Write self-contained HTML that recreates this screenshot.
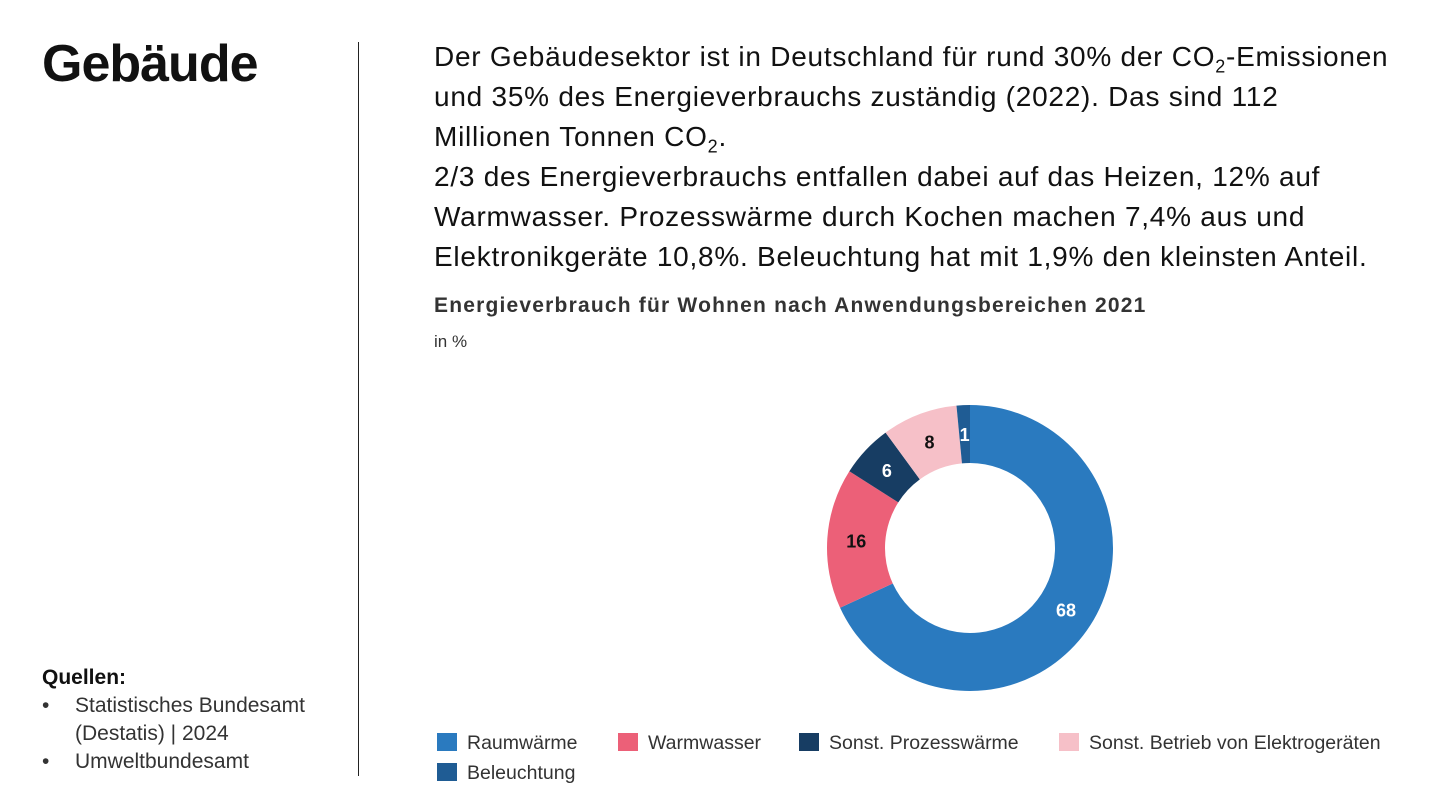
<!DOCTYPE html>
<html><head><meta charset="utf-8"><style>
body{margin:0;width:1440px;height:810px;background:#fff;font-family:"Liberation Sans",sans-serif;color:#111;position:relative;overflow:hidden}
.abs{position:absolute}
sub{font-size:18px;line-height:0}
.b{position:relative;padding-left:33px}
.b:before{content:"•";position:absolute;left:0}
</style></head><body>
<div class="abs" style="left:42px;top:34px;font-size:52px;font-weight:bold;letter-spacing:-1px">Gebäude</div>
<div class="abs" style="left:358px;top:42px;width:1px;height:734px;background:#222"></div>
<div class="abs" style="left:434px;top:37px;width:1000px;font-size:28px;letter-spacing:0.75px;line-height:40px;white-space:nowrap">Der Gebäudesektor ist in Deutschland für rund 30% der CO<sub>2</sub>-Emissionen<br>und 35% des Energieverbrauchs zuständig (2022). Das sind 112<br>Millionen Tonnen CO<sub>2</sub>.<br>2/3 des Energieverbrauchs entfallen dabei auf das Heizen, 12% auf<br>Warmwasser. Prozesswärme durch Kochen machen 7,4% aus und<br>Elektronikgeräte 10,8%. Beleuchtung hat mit 1,9% den kleinsten Anteil.</div>
<div class="abs" style="left:434px;top:294px;font-size:21px;letter-spacing:1.2px;font-weight:bold;color:#333">Energieverbrauch für Wohnen nach Anwendungsbereichen 2021</div>
<div class="abs" style="left:434px;top:332px;font-size:17px;color:#333">in %</div>
<div class="abs" style="left:42px;top:664px;font-size:21px;line-height:28px;color:#333">
<div style="font-weight:bold;color:#111">Quellen:</div>
<div class="b">Statistisches Bundesamt<br>(Destatis) | 2024</div>
<div class="b">Umweltbundesamt</div>
</div>
<svg class="abs" style="left:0;top:0" width="1440" height="810">
<g id="slices"></g><g id="labels"></g><g id="legend"></g>
</svg>
<script>
const categories=["Raumwärme","Warmwasser","Sonst. Prozesswärme","Sonst. Betrieb von Elektrogeräten","Beleuchtung"];
const values=[67.8,15.8,5.9,8.5,1.5];
const valueLabels=["68","16","6","8","1"];
const colors=["#2a7abf","#ec6078","#173d63","#f6c0c8","#1f5c94"];
const labelColors=["#fff","#111","#fff","#111","#fff"];
const cx=970,cy=548,R=143,r=85;
const total=values.reduce((a,b)=>a+b,0);
const ns="http://www.w3.org/2000/svg";
function pt(a,rad){return [cx+rad*Math.sin(a),cy-rad*Math.cos(a)];}
let a0=0;
const gS=document.getElementById('slices'),gL=document.getElementById('labels'),gG=document.getElementById('legend');
values.forEach((v,i)=>{
 const a1=a0+v/total*2*Math.PI;
 const large=(a1-a0)>Math.PI?1:0;
 const [x0,y0]=pt(a0,R),[x1,y1]=pt(a1,R),[x2,y2]=pt(a1,r),[x3,y3]=pt(a0,r);
 const p=document.createElementNS(ns,'path');
 p.setAttribute('d',`M${x0},${y0}A${R},${R} 0 ${large} 1 ${x1},${y1}L${x2},${y2}A${r},${r} 0 ${large} 0 ${x3},${y3}Z`);
 p.setAttribute('fill',colors[i]);
 
 
 gS.appendChild(p);
 const [lx,ly]=pt((a0+a1)/2,(R+r)/2);
 const t=document.createElementNS(ns,'text');
 t.setAttribute('x',lx);t.setAttribute('y',ly+7);
 t.setAttribute('text-anchor','middle');t.setAttribute('font-weight','bold');t.setAttribute('font-size','18');
 t.setAttribute('fill',labelColors[i]);
 t.textContent=valueLabels[i];
 
 
 gL.appendChild(t);
 a0=a1;
});
const legPos=[[437,733],[618,733],[799,733],[1059,733],[437,763]];
categories.forEach((c,i)=>{
 const g=document.createElementNS(ns,'g');
 
 
 const s=document.createElementNS(ns,'rect');
 s.setAttribute('x',legPos[i][0]);s.setAttribute('y',legPos[i][1]);s.setAttribute('width',20);s.setAttribute('height',18);s.setAttribute('fill',colors[i]);
 g.appendChild(s);
 const t=document.createElementNS(ns,'text');
 t.setAttribute('x',legPos[i][0]+30);t.setAttribute('y',legPos[i][1]+16);
 t.setAttribute('font-size','19.5');t.setAttribute('fill','#333');
 t.textContent=c;
 g.appendChild(t);
 gG.appendChild(g);
});
</script>
</body></html>
